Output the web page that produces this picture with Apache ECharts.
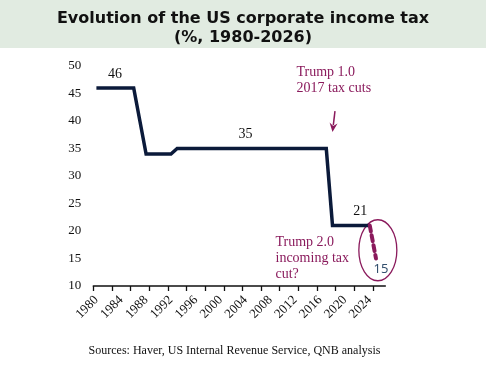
<!DOCTYPE html>
<html><head><meta charset="utf-8">
<script src="https://cdn.jsdelivr.net/npm/echarts@6/dist/echarts.min.js"></script>
<style>html,body{margin:0;padding:0;background:#fff}#c{width:486px;height:365px}</style>
</head><body><div id="c"></div>
<script>
// ---- data ----
const years = [1980,1981,1982,1983,1984,1985,1986,1987,1988,1989,1990,1991,1992,1993,1994,1995,1996,1997,1998,1999,2000,2001,2002,2003,2004,2005,2006,2007,2008,2009,2010,2011,2012,2013,2014,2015,2016,2017,2018,2019,2020,2021,2022,2023,2024];
const rates = [46,46,46,46,46,46,46,40,34,34,34,34,34,35,35,35,35,35,35,35,35,35,35,35,35,35,35,35,35,35,35,35,35,35,35,35,35,35,21,21,21,21,21,21,21];
const proposalYears = [2024, 2025];
const proposalRates = [21, 15];
const labelledYears = [1983, 2004, 2022];
const xLabelYears = [1980,1984,1988,1992,1996,2000,2004,2008,2012,2016,2020,2024];
const yMin = 10, yMax = 50, yStep = 5;
const titleLines = ['Evolution of the US corporate income tax', '(%, 1980-2026)'];
const note1 = ['Trump 1.0', '2017 tax cuts'];
const note2 = ['Trump 2.0', 'incoming tax', 'cut?'];
const sourceText = 'Sources: Haver, US Internal Revenue Service, QNB analysis';

// ---- styles ----
const SERIF = '"Liberation Serif", "Times New Roman", serif';
const NAVY = '#0b1a3a';
const MAG = '#8a1a5c';
const tickVals = [];
for (let k = 0; k <= 15; k++) tickVals.push(1979.5 + 3 * k);

const mainData = years.map((y, i) => {
  const d = { value: [y, rates[i]] };
  if (labelledYears.indexOf(y) >= 0) {
    d.label = { show: true, position: 'top', distance: 7, formatter: String(rates[i]),
      fontFamily: SERIF, fontSize: 14, color: '#111',
      offset: y === 2022 ? [3, 0] : [0, 0] };
  }
  return d;
});
const propData = proposalYears.map((y, i) => {
  const d = { value: [y, proposalRates[i]] };
  if (i === proposalYears.length - 1) {
    d.label = { show: true, position: 'bottom', distance: 4, offset: [5, 0],
      formatter: String(proposalRates[i]), fontFamily: '"Noto Sans", sans-serif', fontSize: 13, color: '#34506e' };
  }
  return d;
});

const chart = echarts.init(document.getElementById('c'), null, { renderer: 'canvas' });
chart.setOption({
  animation: false,
  backgroundColor: '#fff',
  grid: { left: 93.3, right: 100.7, top: 66, bottom: 79 },
  xAxis: {
    type: 'value', min: 1979.5, max: 2026.5,
    splitLine: { show: false },
    axisLine: { show: true, onZero: false, lineStyle: { color: '#111', width: 1.5 } },
    axisTick: { show: true, customValues: tickVals, length: 5, lineStyle: { color: '#111', width: 1.3 } },
    axisLabel: { customValues: xLabelYears, rotate: 45, margin: 12, fontFamily: SERIF, fontSize: 13, color: '#111',
      formatter: v => String(v) }
  },
  yAxis: {
    type: 'value', min: yMin, max: yMax, interval: yStep,
    splitLine: { show: false }, axisLine: { show: false }, axisTick: { show: false },
    axisLabel: { margin: 12, fontFamily: SERIF, fontSize: 13, color: '#111' }
  },
  series: [
    { type: 'line', data: mainData, symbol: 'circle', symbolSize: 0.1, showSymbol: true, z: 3,
      itemStyle: { color: NAVY },
      lineStyle: { color: NAVY, width: 3.5, join: 'miter' } },
    { type: 'line', data: propData, symbol: 'circle', symbolSize: 0.1, z: 3,
      itemStyle: { color: MAG },
      lineStyle: { color: MAG, width: 4, type: [6, 4], cap: 'round' } }
  ]
});

function px(p) { return chart.convertToPixel({ gridIndex: 0 }, p); }
const aTop = px([2018.4, 41.8]);
const aTip = px([2018.0, 38.0]);
const ell = px([2025.3, 16.5]);
const dx = aTip[0] - aTop[0], dy = aTip[1] - aTop[1];
const len = Math.sqrt(dx * dx + dy * dy), ux = dx / len, uy = dy / len;
const hb = [aTip[0] - ux * 9, aTip[1] - uy * 9];

chart.setOption({
  graphic: [
    { type: 'rect', left: 0, top: 0, z: -10, shape: { width: 486, height: 48 }, style: { fill: '#e1ebe1' } },
    { type: 'text', x: 243, y: 9, style: { text: titleLines.join('\n'), align: 'center', verticalAlign: 'top',
      font: 'bold 16px "DejaVu Sans", sans-serif', lineHeight: 19.5, fill: '#111' } },
    { type: 'text', x: 296.5, y: 64, style: { text: note1.join('\n'), align: 'left', verticalAlign: 'top',
      font: '14px ' + SERIF, lineHeight: 16.5, fill: MAG } },
    { type: 'text', x: 275.5, y: 234, style: { text: note2.join('\n'), align: 'left', verticalAlign: 'top',
      font: '14px ' + SERIF, lineHeight: 16, fill: MAG } },
    { type: 'line', shape: { x1: aTop[0], y1: aTop[1], x2: hb[0] + ux * 2, y2: hb[1] + uy * 2 },
      style: { stroke: MAG, lineWidth: 1.5 } },
    { type: 'polygon', shape: { points: [aTip, [hb[0] - uy * 4, hb[1] + ux * 4], [hb[0] + ux * 3, hb[1] + uy * 3], [hb[0] + uy * 4, hb[1] - ux * 4]] },
      style: { fill: MAG } },
    { type: 'ellipse', shape: { cx: ell[0], cy: ell[1], rx: 19, ry: 30.5 }, style: { fill: 'none', stroke: MAG, lineWidth: 1.3 } },
    { type: 'text', x: 234.5, y: 351, style: { text: sourceText, align: 'center', verticalAlign: 'middle',
      font: '12px ' + SERIF, fill: '#111' } }
  ]
});
</script></body></html>
